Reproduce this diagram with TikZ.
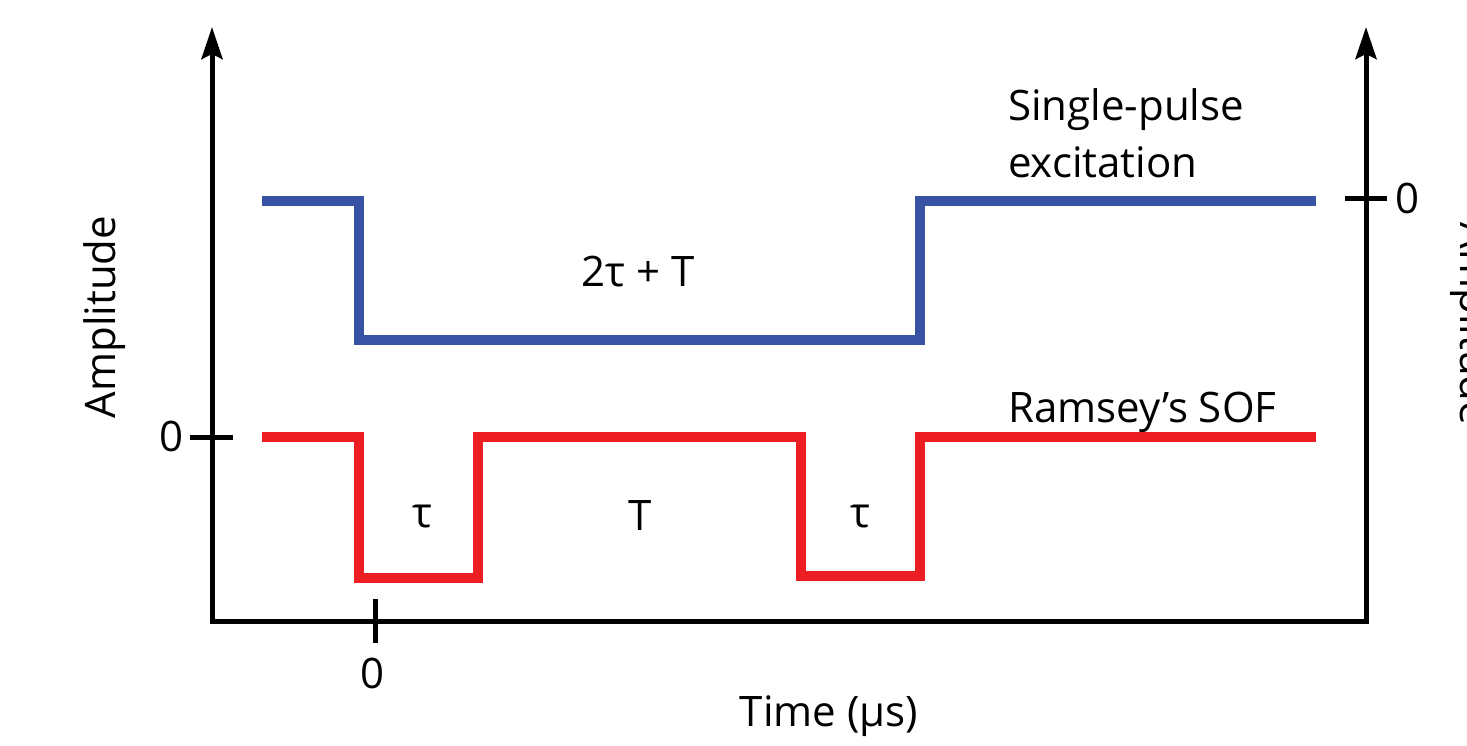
\documentclass[tikz,border=0pt]{standalone}
\usepackage{fontspec}
\setmainfont{Open Sans}
\usetikzlibrary{arrows.meta}
\definecolor{pulseblue}{RGB}{57,83,164}
\definecolor{pulsered}{RGB}{237,29,36}
\begin{document}
\begin{tikzpicture}[x=1pt,y=-1pt,
  axis/.style={line width=5pt, black, line join=miter},
  tip/.tip={Stealth[length=32pt,width=21pt,inset=5pt]},
  tickmark/.style={line width=5pt, black},
  trace/.style={line width=10pt, line join=miter, line cap=butt},
  lbl/.style={inner sep=0pt, font=\fontsize{42}{52}\selectfont},
]
\useasboundingbox (0,0) rectangle (1467,745);

% axes
\coordinate (ytop) at (212,27);
\coordinate (origin) at (212,621);
\coordinate (xend) at (1366,621);
\coordinate (rtop) at (1366,27);
\draw[axis, tip-tip] (ytop) -- (origin) -- (xend) -- (rtop);

% tick marks
\coordinate (lt1) at (190,437); \coordinate (lt2) at (233,437);
\coordinate (bt1) at (375,599); \coordinate (bt2) at (375,643);
\coordinate (rt1) at (1345,198); \coordinate (rt2) at (1387,198);
\draw[tickmark] (lt1) -- (lt2);
\draw[tickmark] (bt1) -- (bt2);
\draw[tickmark] (rt1) -- (rt2);

% single-pulse excitation trace
\draw[trace, pulseblue] (262,201) -- (359,201) -- (359,340) -- (920,340)
  -- (920,201) -- (1316,201);

% Ramsey separated oscillatory fields trace
\draw[trace, pulsered] (262,437) -- (359,437) -- (359,578) -- (478,578)
  -- (478,437) -- (801,437) -- (801,576) -- (920,576) -- (920,437) -- (1316,437);

% labels
\node[lbl, anchor=base west] (sp1) at (1008,120) {Single-pulse};
\node[lbl, anchor=base west] (sp2) at (1008,177) {excitation};
\node[lbl, anchor=base west] (rs) at (1008,422) {Ramsey’s SOF};
\node[lbl] (dur) at (638,272) {2τ + T};
\node[lbl] (tau1) at (422,517) {τ};
\node[lbl] (bigT) at (640,515) {T};
\node[lbl] (tau2) at (860,517) {τ};
\node[lbl] (x0) at (373,673) {0};
\node[lbl] (y0) at (172,436) {0};
\node[lbl] (r0) at (1407,198) {0};
\node[lbl] (xlab) at (829,716) {Time (μs)};
\node[lbl, rotate=90, anchor=base] (ylab) at (115,317) {Amplitude};
\node[lbl, rotate=-90, anchor=base] (rlab) at (1460,324) {Amplitude};
\end{tikzpicture}
\end{document}
